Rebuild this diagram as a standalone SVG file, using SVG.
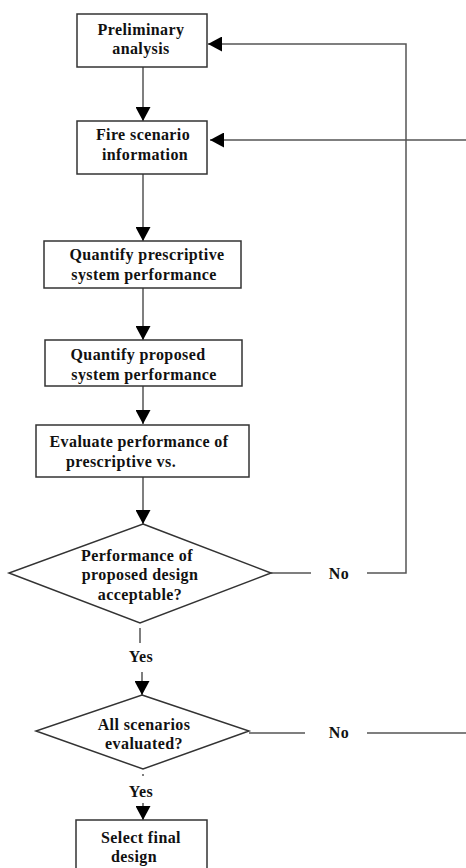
<svg xmlns="http://www.w3.org/2000/svg" width="466" height="868" viewBox="0 0 466 868">
<style>
.box{fill:#fff;stroke:#333;stroke-width:1.5}
.t{font-family:"Liberation Serif","Times New Roman",serif;font-weight:bold;font-size:16px;letter-spacing:0.4px;fill:#111;text-anchor:middle}
.c{fill:none;stroke:#555;stroke-width:1.5}
</style>
<defs>
<marker id="ah" markerUnits="userSpaceOnUse" markerWidth="15" markerHeight="15" refX="14" refY="7.5" orient="auto">
<path d="M0,0 L14,7.5 L0,15 z" fill="#000"/>
</marker>
</defs>
<rect width="466" height="868" fill="#fff"/>
<g id="connectors">
<line class="c" x1="143" y1="67" x2="143" y2="121" marker-end="url(#ah)"/>
<line class="c" x1="143" y1="174" x2="143" y2="241" marker-end="url(#ah)"/>
<line class="c" x1="143" y1="288" x2="143" y2="340" marker-end="url(#ah)"/>
<line class="c" x1="143" y1="386" x2="143" y2="424" marker-end="url(#ah)"/>
<line class="c" x1="143" y1="477" x2="143" y2="524" marker-end="url(#ah)"/>
<line class="c" x1="271" y1="573" x2="311" y2="573"/>
<polyline class="c" points="367,573 406,573 406,44 208,44" marker-end="url(#ah)"/>
<line class="c" x1="140" y1="628" x2="140" y2="643"/>
<line class="c" x1="142" y1="672" x2="142" y2="695" marker-end="url(#ah)"/>
<line class="c" x1="249" y1="733" x2="305" y2="733"/>
<line class="c" x1="367" y1="733" x2="466" y2="733"/>
<line class="c" x1="466" y1="140" x2="210" y2="140" marker-end="url(#ah)"/>
<line class="c" x1="143" y1="774" x2="143" y2="776"/>
<line class="c" x1="143" y1="803" x2="143" y2="820" marker-end="url(#ah)"/>
<text class="t" x="339" y="579">No</text>
<text class="t" x="141" y="662">Yes</text>
<text class="t" x="339" y="738">No</text>
<text class="t" x="141" y="797">Yes</text>
</g>
<g id="n1"><rect class="box" x="77" y="14" width="130" height="53"/>
<text class="t" x="141" y="35">Preliminary</text><text class="t" x="141" y="54">analysis</text></g>
<g id="n2"><rect class="box" x="77" y="121" width="130" height="53"/>
<text class="t" x="143" y="140">Fire scenario</text><text class="t" x="145" y="160">information</text></g>
<g id="n3"><rect class="box" x="44" y="241" width="197" height="47"/>
<text class="t" x="147" y="260">Quantify prescriptive</text><text class="t" x="144" y="280">system performance</text></g>
<g id="n4"><rect class="box" x="45" y="340" width="197" height="46"/>
<text class="t" x="138" y="360">Quantify proposed</text><text class="t" x="144" y="380">system performance</text></g>
<g id="n5"><rect class="box" x="36" y="425" width="213" height="52"/>
<text class="t" x="139" y="447">Evaluate performance of</text><text class="t" x="121" y="467">prescriptive vs.</text></g>
<g id="d1"><polygon class="box" points="143,524 271,573 140,623 9,573"/>
<text class="t" x="137" y="561">Performance of</text><text class="t" x="140" y="580">proposed design</text><text class="t" x="140" y="600">acceptable?</text></g>
<g id="d2"><polygon class="box" points="142,695 249,731 143,769 36,731"/>
<text class="t" x="144" y="730">All scenarios</text><text class="t" x="144" y="749">evaluated?</text></g>
<g id="n6"><rect class="box" x="76" y="820" width="131" height="60"/>
<text class="t" x="141" y="843">Select final</text><text class="t" x="134" y="862">design</text></g>
</svg>
